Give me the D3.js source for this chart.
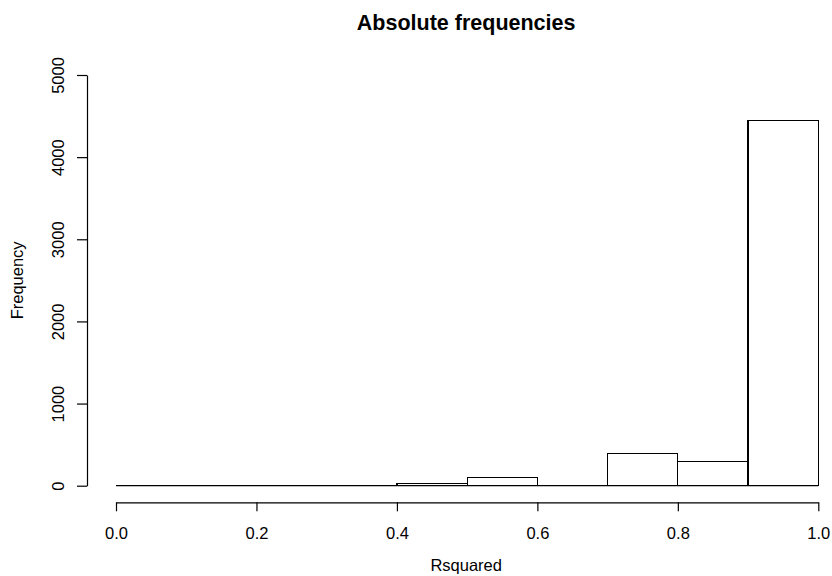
<!DOCTYPE html>
<html>
<head>
<meta charset="utf-8">
<script src="https://cdn.jsdelivr.net/npm/d3@7"></script>
<style>
  html, body { margin: 0; padding: 0; background: #ffffff; }
  svg { display: block; }
  text { font-family: "Liberation Sans", Arial, sans-serif; fill: #000; }
</style>
</head>
<body>
<svg id="chart" width="832" height="576"></svg>
<script>
// Histogram bins of R-squared values (left edge, right edge) and their counts
const binStarts = [0.0, 0.1, 0.2, 0.3, 0.4, 0.5, 0.6, 0.7, 0.8, 0.9];
const binEnds   = [0.1, 0.2, 0.3, 0.4, 0.5, 0.6, 0.7, 0.8, 0.9, 1.0];
const counts    = [0, 0, 0, 0, 30, 100, 0, 390, 295, 4450];

const xTicks = [0.0, 0.2, 0.4, 0.6, 0.8, 1.0];
const yTicks = [0, 1000, 2000, 3000, 4000, 5000];

const titleText = "Absolute frequencies";
const xLabel = "Rsquared";
const yLabel = "Frequency";

const svg = d3.select("#chart");
const labelSize = 16.5;

const x = d3.scaleLinear().domain([0, 1]).range([116, 818.3]);
const y = d3.scaleLinear().domain([0, 5000]).range([485.7, 75]);

// Bars
svg.append("g")
  .selectAll("rect")
  .data(counts)
  .join("rect")
  .attr("x", (d, i) => x(binStarts[i]))
  .attr("width", (d, i) => x(binEnds[i]) - x(binStarts[i]))
  .attr("y", d => y(d))
  .attr("height", d => y(0) - y(d))
  .attr("fill", "#ffffff")
  .attr("stroke", "#000")
  .attr("stroke-width", 1.2)
  .attr("shape-rendering", "crispEdges");

// Baseline under empty bins
svg.append("line")
  .attr("x1", x(0)).attr("x2", x(1))
  .attr("y1", y(0)).attr("y2", y(0))
  .attr("stroke", "#000").attr("stroke-width", 1.2);

// X axis
const xAxis = svg.append("g")
  .attr("transform", "translate(0,502.3)")
  .call(d3.axisBottom(x).tickValues(xTicks).tickFormat(d3.format(".1f"))
        .tickSize(9).tickSizeOuter(0).tickPadding(15.5));
xAxis.select(".domain").attr("stroke", "#000").attr("stroke-width", 1.2);
xAxis.selectAll(".tick line").attr("stroke", "#000").attr("stroke-width", 1.2);
xAxis.selectAll(".tick text")
  .attr("font-size", labelSize)
  .attr("font-family", "Liberation Sans, Arial, sans-serif")
  .attr("fill", "#000");

// Y axis
const yAxis = svg.append("g")
  .attr("transform", "translate(87,0)")
  .call(d3.axisLeft(y).tickValues(yTicks).tickFormat(d3.format("d"))
        .tickSize(10).tickSizeOuter(0));
yAxis.select(".domain").attr("stroke", "#000").attr("stroke-width", 1.2);
yAxis.selectAll(".tick line").attr("stroke", "#000").attr("stroke-width", 1.2);
yAxis.selectAll(".tick text")
  .attr("font-size", labelSize)
  .attr("font-family", "Liberation Sans, Arial, sans-serif")
  .attr("fill", "#000")
  .attr("x", null).attr("dy", null)
  .attr("text-anchor", "middle")
  .attr("transform", "translate(-23,0) rotate(-90)");

// Title and axis labels
const cx = (x(0) + x(1)) / 2 - 1;
svg.append("text")
  .attr("x", cx).attr("y", 30)
  .attr("text-anchor", "middle")
  .attr("font-size", 21.5)
  .attr("font-weight", "bold")
  .text(titleText);

svg.append("text")
  .attr("x", cx).attr("y", 571)
  .attr("text-anchor", "middle")
  .attr("font-size", labelSize)
  .text(xLabel);

svg.append("text")
  .attr("transform", `translate(23,${(y(0) + y(5000)) / 2}) rotate(-90)`)
  .attr("text-anchor", "middle")
  .attr("font-size", labelSize)
  .text(yLabel);
</script>
</body>
</html>
